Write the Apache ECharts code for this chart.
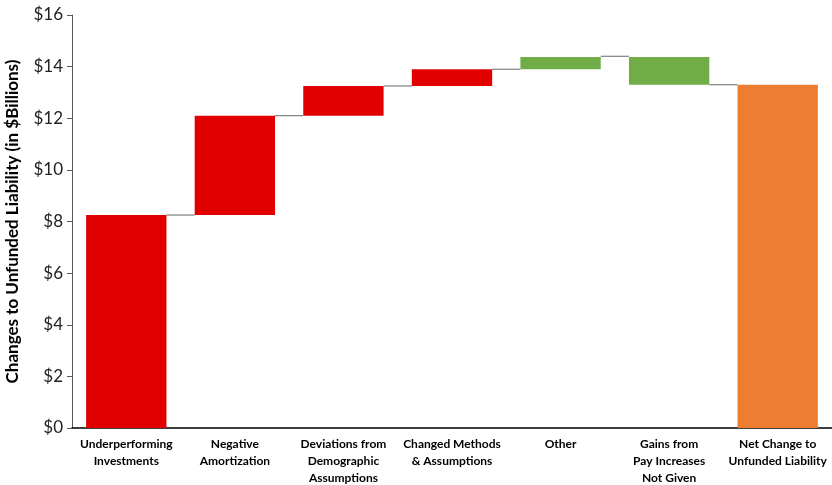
<!DOCTYPE html>
<html>
<head>
<meta charset="utf-8">
<script src="https://cdn.jsdelivr.net/npm/echarts@6/dist/echarts.min.js"></script>
<style>
  html, body { margin: 0; padding: 0; background: #fff; }
  #chart { width: 832px; height: 485px; }
</style>
</head>
<body>
<div id="chart"></div>
<script>
// categories and bar ranges ($ billions)
const categories = [
  'Underperforming\nInvestments',
  'Negative\nAmortization',
  'Deviations from\nDemographic\nAssumptions',
  'Changed Methods\n& Assumptions',
  'Other',
  'Gains from\nPay Increases\nNot Given',
  'Net Change to\nUnfunded Liability'
];
const barLow = [0, 8.25, 12.1, 13.25, 13.9, 13.3, 0];
const barHigh = [8.25, 12.1, 13.25, 13.9, 14.37, 14.37, 13.3];
// level of the connector drawn after each bar
const connectorLevel = [8.25, 12.1, 13.25, 13.9, 14.4, 13.3];

const RED = '#E00000', GREEN = '#70AD47', ORANGE = '#ED7D31';
const barColors = [RED, RED, RED, RED, GREEN, GREEN, ORANGE];
const barRatio = 0.74;

const chart = echarts.init(document.getElementById('chart'));

chart.setOption({
  animation: false,
  textStyle: { fontFamily: 'Lato' },
  grid: { left: 72, right: 0, top: 15, bottom: 57, outerBoundsMode: 'none' },
  xAxis: {
    type: 'category',
    data: categories,
    axisLine: { lineStyle: { color: '#000', width: 1.5 } },
    axisTick: { show: false },
    axisLabel: {
      interval: 0,
      margin: 8,
      color: '#000',
      fontSize: 12,
      fontWeight: 'bold',
      lineHeight: 17
    }
  },
  yAxis: {
    type: 'value',
    min: 0,
    max: 16,
    interval: 2,
    name: 'Changes to Unfunded Liability (in $Billions)',
    nameLocation: 'middle',
    nameGap: 51,
    nameTextStyle: { color: '#000', fontSize: 17, fontWeight: 'bold' },
    axisLine: { show: true, lineStyle: { color: '#595959', width: 1 } },
    axisTick: { show: true, length: 5, lineStyle: { color: '#595959' } },
    splitLine: { show: false },
    axisLabel: {
      formatter: v => '$' + v,
      color: '#222',
      fontSize: 17,
      margin: 9
    }
  },
  series: [
    {
      type: 'bar',
      stack: 'wf',
      barWidth: (barRatio * 100) + '%',
      itemStyle: { color: 'transparent' },
      emphasis: { disabled: true },
      data: barLow
    },
    {
      type: 'bar',
      stack: 'wf',
      barWidth: (barRatio * 100) + '%',
      data: barHigh.map((h, i) => ({
        value: +(h - barLow[i]).toFixed(3),
        itemStyle: { color: barColors[i] }
      }))
    },
    {
      type: 'custom',
      silent: true,
      data: connectorLevel.map((lv, i) => [i, lv]),
      encode: { x: 0, y: 1 },
      renderItem: (params, api) => {
        const p = api.coord([api.value(0), api.value(1)]);
        const w = api.size([1, 0])[0];
        const half = w * barRatio / 2;
        return {
          type: 'line',
          shape: { x1: p[0] + half, y1: p[1], x2: p[0] + w - half, y2: p[1] },
          style: { stroke: '#7f7f7f', lineWidth: 1.2 }
        };
      }
    }
  ]
});
</script>
</body>
</html>
